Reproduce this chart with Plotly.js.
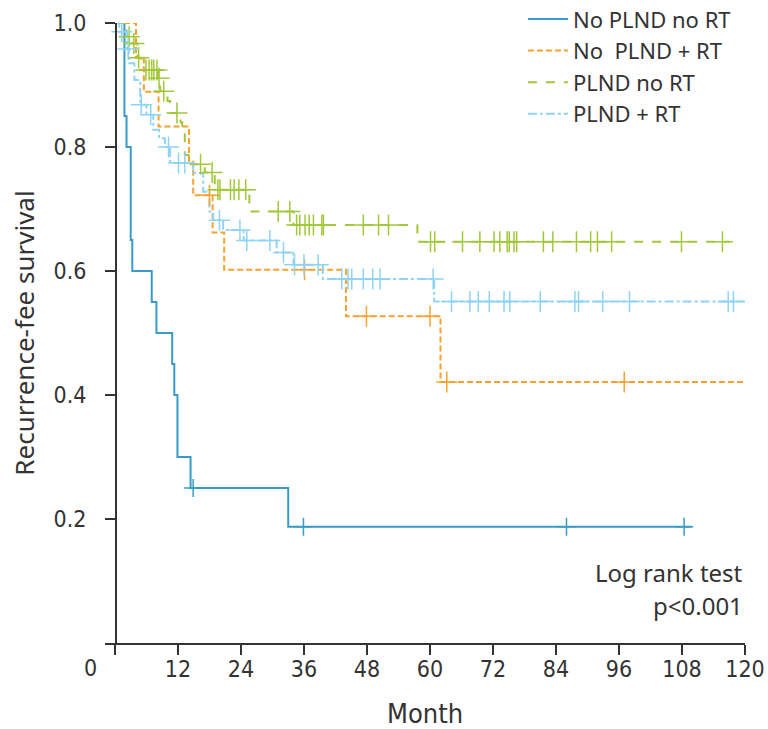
<!DOCTYPE html>
<html>
<head>
<meta charset="utf-8">
<script src="https://cdn.plot.ly/plotly-3.0.1.min.js"></script>
<style>html,body{margin:0;padding:0;background:#fff;}#chart{width:768px;height:729px;}</style>
</head>
<body>
<div id="chart"></div>
<script>
// ---- Data (months, survival) ----
const seriesNames = ["No PLND no RT", "No\u00a0 PLND + RT", "PLND no RT", "PLND + RT"];

const blueT = [0, 1.8, 2.2, 3.0, 3.3, 7.0, 7.9, 10.9, 11.3, 11.9, 14.4, 33.0, 109.8];
const blueS = [1.0, 0.85, 0.80, 0.65, 0.60, 0.55, 0.50, 0.45, 0.40, 0.30, 0.25, 0.1875, 0.1875];
const blueCens = [14.9, 35.9, 86.0, 108.4];

const orangeT = [0, 4.0, 5.5, 8.3, 14.1, 14.9, 18.6, 20.8, 44.0, 62.0, 120];
const orangeS = [1.0, 0.944, 0.889, 0.833, 0.778, 0.722, 0.662, 0.602, 0.527, 0.421, 0.421];
const orangeCens = [18.0, 36.1, 47.9, 60.0, 63.2, 97.0];

const greenT = [0, 2.2, 3.2, 4.3, 5.0, 8.2, 8.6, 10.0, 10.5, 12.5, 12.8, 13.3, 14.0, 17.1, 19.0, 25.6, 34.0, 57.6, 117.1];
const greenS = [1.0, 0.978, 0.967, 0.944, 0.924, 0.911, 0.890, 0.874, 0.855, 0.840, 0.826, 0.787, 0.772, 0.759, 0.731, 0.696, 0.674, 0.647, 0.647];
const greenCens = [2.7, 3.6, 4.5, 5.9, 6.5, 7.0, 7.4, 8.0, 8.4, 9.3, 11.8, 16.3, 18.5, 19.6, 20.0, 22.0, 22.7, 23.6, 24.9,
  31.1, 33.3, 34.6, 35.2, 36.2, 37.0, 37.8, 39.4, 39.7, 47.3, 50.2, 52.1, 60.1, 60.9, 66.2, 69.5, 72.2, 73.3,
  74.7, 75.1, 76.0, 76.5, 81.6, 83.4, 87.9, 90.6, 91.9, 94.6, 107.9, 115.7];

const lblueT = [0, 0.8, 2.3, 2.7, 3.7, 4.8, 6.0, 7.3, 8.4, 9.5, 10.5, 14.9, 16.8, 18.0, 18.7, 20.6, 24.5, 30.8, 34.0, 39.6, 60.8, 120];
const lblueS = [1.0, 0.986, 0.958, 0.935, 0.908, 0.868, 0.852, 0.828, 0.814, 0.800, 0.774, 0.758, 0.728, 0.696, 0.682, 0.666, 0.649, 0.630, 0.610, 0.587, 0.551, 0.551];
const lblueCens = [1.3, 2.5, 5.0, 6.8, 10.2, 12.1, 13.3, 19.9, 23.8, 25.1, 29.5, 32.1, 34.2, 36.0, 38.7, 43.2, 44.4, 45.1,
  47.3, 49.1, 50.5, 60.6, 64.1, 67.6, 69.2, 71.3, 74.1, 75.2, 81.0, 87.6, 88.3, 92.9, 98.0, 116.8, 117.8];

const xTickVals = [0, 12, 24, 36, 48, 60, 72, 84, 96, 108, 120];
const xTickText = ["", "12", "24", "36", "48", "60", "72", "84", "96", "108", "120"];
const yTickVals = [0.2, 0.4, 0.6, 0.8, 1.0];
const yTickText = ["0.2", "0.4", "0.6", "0.8", "1.0"];

// ---- helpers ----
function stepAt(T, S, t) {
  let v = S[0];
  for (let i = 0; i < T.length; i++) { if (T[i] <= t) v = S[i]; }
  return v;
}

const colors = ["#3a9bc8", "#f7a22f", "#a2c83a", "#8fd3f5"];
const dashes = ["solid", "6px,3px", "9px,9px", "9px,3px,3px,3px"];
const sets = [
  [blueT, blueS, blueCens, 13],
  [orangeT, orangeS, orangeCens, 15],
  [greenT, greenS, greenCens, 15],
  [lblueT, lblueS, lblueCens, 15]
];

const traces = [];
sets.forEach((s, i) => {
  traces.push({
    x: s[0], y: s[1], type: "scatter", mode: "lines",
    line: { shape: "hv", color: colors[i], width: 2, dash: dashes[i] },
    name: seriesNames[i], legendgroup: "g" + i, showlegend: true
  });
});
sets.forEach((s, i) => {
  traces.push({
    x: s[2], y: s[2].map(t => stepAt(s[0], s[1], t)), type: "scatter", mode: "markers",
    marker: { symbol: "cross-thin", size: s[3], color: colors[i], line: { width: 1.5, color: colors[i] } },
    legendgroup: "g" + i, showlegend: false, hoverinfo: "skip"
  });
});

const condFamily = "DejaVu Sans Condensed, Liberation Sans Narrow, sans-serif";
const tickFont = { family: condFamily, size: 23, color: "#333" };
const textFont = { family: "Noto Sans, sans-serif", size: 24, color: "#333" };
const layout = {
  width: 768, height: 729,
  margin: { l: 105, r: 23, t: 23, b: 86, autoexpand: false },
  paper_bgcolor: "#fff", plot_bgcolor: "#fff",
  showlegend: true,
  hovermode: false,
  xaxis: {
    range: [-1.9, 120], showgrid: false, zeroline: false,
    showline: true, linecolor: "#333", linewidth: 1.5,
    ticks: "outside", ticklen: 10, tickwidth: 1.5, tickcolor: "#333",
    tickvals: xTickVals, ticktext: xTickText, tickfont: tickFont,
    ticklabelstandoff: -5,
    automargin: false,
    title: { text: "Month", font: { family: condFamily, size: 27, color: "#333" }, standoff: 24 }
  },
  yaxis: {
    range: [0, 1.0], showgrid: false, zeroline: false,
    anchor: "free", position: 10 / 640,
    showline: true, linecolor: "#333", linewidth: 1.5,
    ticks: "outside", ticklen: 10, tickwidth: 1.5, tickcolor: "#333",
    tickvals: yTickVals, ticktext: yTickText, tickfont: tickFont,
    ticklabelstandoff: 14, automargin: false,
    title: { text: "Recurrence-fee survival", font: { family: "Noto Sans, sans-serif", size: 26, color: "#333" }, standoff: 10 }
  },
  legend: {
    x: 0.653, y: 1.04, xanchor: "left", yanchor: "top",
    font: { family: "Noto Sans, sans-serif", size: 22, color: "#333" },
    bgcolor: "rgba(0,0,0,0)", tracegroupgap: 0, itemwidth: 40
  },
  annotations: [
    { xref: "paper", yref: "paper", x: -15 / 640, y: -0.016, xanchor: "center", yanchor: "top",
      text: "0", showarrow: false, font: tickFont },
    { xref: "paper", yref: "paper", x: 1.0, y: 0.113, xanchor: "right", yanchor: "middle",
      text: "Log rank test", showarrow: false, font: textFont },
    { xref: "paper", yref: "paper", x: 1.0, y: 0.061, xanchor: "right", yanchor: "middle",
      text: "p<0.001", showarrow: false, font: textFont }
  ]
};

Plotly.newPlot("chart", traces, layout, { displayModeBar: false, staticPlot: true });
</script>
</body>
</html>
